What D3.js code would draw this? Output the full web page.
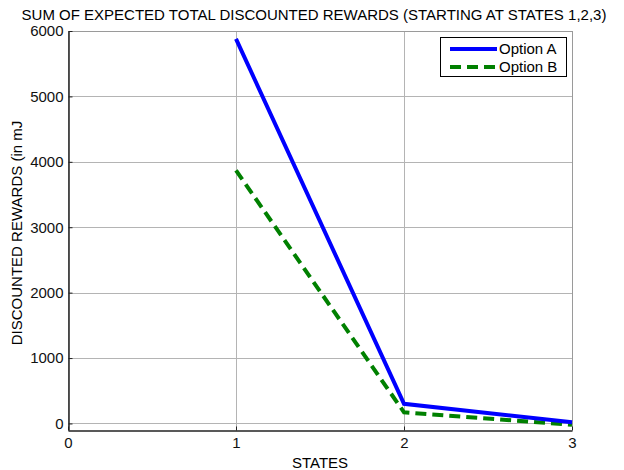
<!DOCTYPE html>
<html>
<head>
<meta charset="utf-8">
<script src="https://cdn.jsdelivr.net/npm/d3@7"></script>
<style>
  body { margin: 0; background: #fff; }
  svg { display: block; font-family: "Liberation Sans", Arial, sans-serif; }
</style>
</head>
<body>
<svg id="chart" width="624" height="470"></svg>
<script>
// States visited and expected total discounted reward per option (mJ)
const states = [1, 2, 3];
const optionA = [5880, 300, 20];
const optionB = [3870, 170, -20];
const xTicks = [0, 1, 2, 3];
const yTicks = [0, 1000, 2000, 3000, 4000, 5000, 6000];
const seriesNames = ["Option A", "Option B"];

const FS = 15;
const svg = d3.select("#chart");
const margin = { left: 68, right: 52, top: 31, bottom: 40 };
const W = 624, H = 470;

const x = d3.scaleLinear().domain([0, 3]).range([margin.left, W - margin.right]);
const y = d3.scaleLinear().domain([-100, 6000]).range([H - margin.bottom, margin.top]);

const x0 = margin.left, x1 = W - margin.right;
const yTop = margin.top, yBot = H - margin.bottom;

// grid
const grid = svg.append("g").attr("stroke", "#b4b4b4").attr("stroke-width", 1);
yTicks.forEach(t => {
  grid.append("line").attr("x1", x0).attr("x2", x1)
    .attr("y1", Math.round(y(t)) + 0.5).attr("y2", Math.round(y(t)) + 0.5);
});
xTicks.forEach(t => {
  grid.append("line").attr("y1", yTop).attr("y2", yBot)
    .attr("x1", Math.round(x(t)) + 0.5).attr("x2", Math.round(x(t)) + 0.5);
});

// frame: top/right light, left/bottom dark
svg.append("line").attr("x1", x0).attr("x2", x1 + 0.5).attr("y1", yTop + 0.5).attr("y2", yTop + 0.5).attr("stroke", "#9a9a9a");
svg.append("line").attr("x1", x1 + 0.5).attr("x2", x1 + 0.5).attr("y1", yTop).attr("y2", yBot).attr("stroke", "#9a9a9a");

// axes
const xAxis = d3.axisBottom(x).tickValues(xTicks).tickFormat(d3.format("d")).tickSizeInner(-4).tickSizeOuter(0).tickPadding(7);
const yAxis = d3.axisLeft(y).tickValues(yTicks).tickFormat(d3.format("d")).tickSizeInner(-4).tickSizeOuter(0).tickPadding(5);

const gx = svg.append("g").attr("transform", `translate(0,${Math.round(yBot) + 0.5})`).call(xAxis);
const gy = svg.append("g").attr("transform", `translate(${x0 + 0.5},0)`).call(yAxis);
[gx, gy].forEach(g => {
  g.select(".domain").attr("stroke", "#222").attr("stroke-width", 1.5);
  g.selectAll(".tick line").attr("stroke", "#222");
  g.selectAll(".tick text").attr("fill", "#111").attr("font-size", FS)
    .attr("font-family", "Liberation Sans, Arial, sans-serif");
});

// series
const line = d3.line().x((d, i) => x(states[i])).y(d => y(d));
const plot = svg.append("g");
plot.append("path").datum(optionB).attr("d", line)
  .attr("fill", "none").attr("stroke", "#008000").attr("stroke-width", 4)
  .attr("stroke-dasharray", "11,6");
plot.append("path").datum(optionA).attr("d", line)
  .attr("fill", "none").attr("stroke", "#0000ff").attr("stroke-width", 4);

// legend
const lg = svg.append("g");
lg.append("rect").attr("x", 440.5).attr("y", 37.5).attr("width", 126).attr("height", 39)
  .attr("fill", "#fff").attr("stroke", "#000").attr("stroke-width", 1);
const legendStyles = [
  { color: "#0000ff", dash: null },
  { color: "#008000", dash: "11,6" }
];
seriesNames.forEach((name, i) => {
  const ly = 49 + i * 18;
  lg.append("line").attr("x1", 450).attr("x2", 497).attr("y1", ly).attr("y2", ly)
    .attr("stroke", legendStyles[i].color).attr("stroke-width", 4)
    .attr("stroke-dasharray", legendStyles[i].dash);
  lg.append("text").attr("x", 499).attr("y", ly).attr("dy", "0.36em")
    .attr("font-size", FS).attr("fill", "#000").text(name);
});

// titles
svg.append("text").attr("x", 314).attr("y", 20).attr("text-anchor", "middle")
  .attr("font-size", FS).attr("fill", "#000")
  .text("SUM OF EXPECTED TOTAL DISCOUNTED REWARDS (STARTING AT STATES 1,2,3)");
svg.append("text").attr("x", 320).attr("y", 468).attr("text-anchor", "middle")
  .attr("font-size", FS).attr("fill", "#000").text("STATES");
svg.append("text").attr("transform", `translate(22,233) rotate(-90)`)
  .attr("text-anchor", "middle").attr("font-size", FS).attr("fill", "#000")
  .text("DISCOUNTED REWARDS (in mJ");
</script>
</body>
</html>
